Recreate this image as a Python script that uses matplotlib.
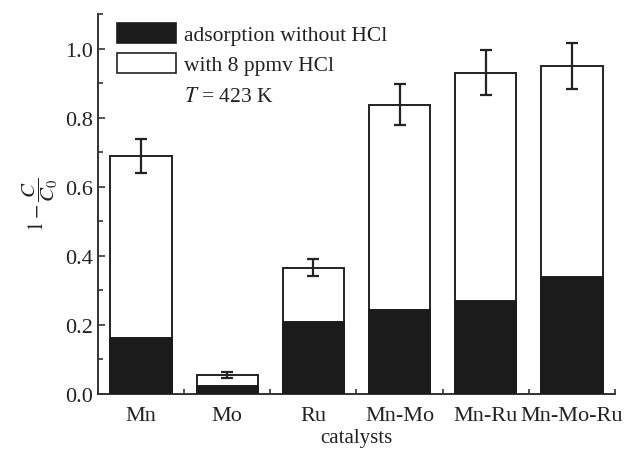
import matplotlib
matplotlib.use("Agg")
import matplotlib.pyplot as plt
import numpy as np
from matplotlib.patches import Patch
from matplotlib.ticker import MultipleLocator

catalysts = ['Mn', 'Mo', 'Ru', 'Mn-Mo', 'Mn-Ru', 'Mn-Mo-Ru']
without_hcl = [0.162, 0.024, 0.207, 0.243, 0.270, 0.340]
with_hcl = [0.689, 0.055, 0.366, 0.838, 0.930, 0.949]
with_hcl_err = [0.048, 0.010, 0.025, 0.060, 0.065, 0.067]

plt.rcParams['font.family'] = ['Liberation Serif', 'DejaVu Serif']
plt.rcParams['mathtext.fontset'] = 'stix'

fig = plt.figure(figsize=(6.28, 4.52), dpi=100)
ax = fig.add_axes([98 / 628, 1 - 395 / 452, (615 - 98) / 628, (395 - 15) / 452])

x = np.arange(len(catalysts))
w = 0.71
ax.bar(x, with_hcl, w, color='white', edgecolor='#222222', linewidth=1.4, zorder=2)
ax.bar(x, without_hcl, w, color='#1b1b1b', edgecolor='#1b1b1b', linewidth=1.4, zorder=3)
ax.errorbar(x, with_hcl, yerr=with_hcl_err, fmt='none', ecolor='#222222',
            elinewidth=1.6, capsize=4.5, capthick=1.6, zorder=4)

ax.set_xlim(-0.5, 5.5)
ax.set_ylim(0, 1.1)
ax.set_xticks(x)
ax.set_xticklabels(catalysts)
ax.xaxis.set_minor_locator(MultipleLocator(1, offset=0.5))
ax.yaxis.set_major_locator(MultipleLocator(0.2))
ax.yaxis.set_minor_locator(MultipleLocator(0.1))
ax.yaxis.set_major_formatter(matplotlib.ticker.FormatStrFormatter('%.1f'))

for s in ['top', 'right']:
    ax.spines[s].set_visible(False)
for s in ['left', 'bottom']:
    ax.spines[s].set_linewidth(1.4)
    ax.spines[s].set_color('#333333')

ax.tick_params(which='both', direction='in', width=1.2, colors='#333333',
               labelsize=16, labelcolor='#222222')
ax.tick_params(which='major', length=5)
ax.tick_params(which='minor', length=3.5)
ax.tick_params(axis='x', pad=9)

ax.set_xlabel('catalysts', fontsize=15, color='#222222', labelpad=2)
ax.set_ylabel(r'$1-\dfrac{C}{C_0}$', fontsize=15, color='#222222', labelpad=4)

handles = [Patch(facecolor='#1b1b1b', edgecolor='#1b1b1b', linewidth=1.2),
           Patch(facecolor='white', edgecolor='#222222', linewidth=1.2),
           Patch(facecolor='none', edgecolor='none')]
labels = ['adsorption without HCl', 'with 8 ppmv HCl', r'$T$ = 423 K']
leg = ax.legend(handles, labels, loc='upper left', bbox_to_anchor=(0.021, 1.0),
                frameon=False, fontsize=15.5, handlelength=2.7, handleheight=1.05,
                handletextpad=0.4, labelspacing=0.38, borderaxespad=0.0)
for t in leg.get_texts():
    t.set_color('#222222')

fig.savefig('out.png', dpi=100)
